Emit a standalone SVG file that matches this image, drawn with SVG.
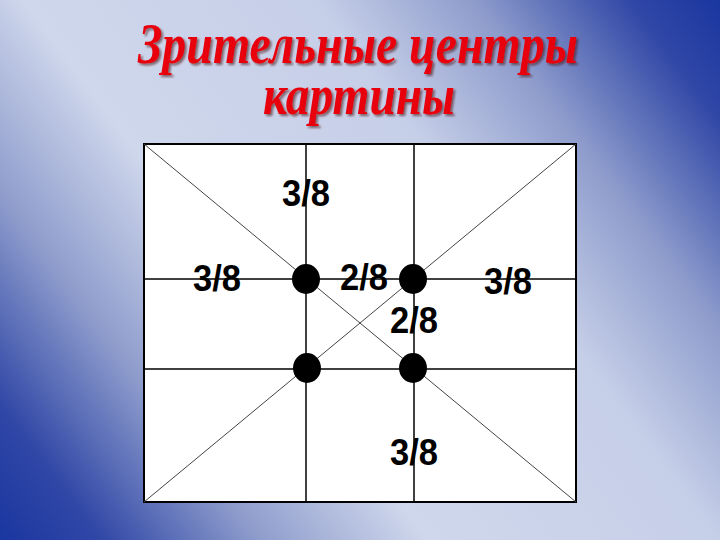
<svg xmlns="http://www.w3.org/2000/svg" width="720" height="540" viewBox="0 0 720 540">
<defs>
<linearGradient id="bg" gradientUnits="userSpaceOnUse" x1="720" y1="0" x2="0" y2="540">
<stop offset="0" stop-color="#1a36a0"/>
<stop offset="0.08" stop-color="#3047a6"/>
<stop offset="0.22" stop-color="#8e9ccc"/>
<stop offset="0.36" stop-color="#c6cfe8"/>
<stop offset="0.62" stop-color="#cfd7ec"/>
<stop offset="0.77" stop-color="#8e9ccc"/>
<stop offset="0.91" stop-color="#3047a6"/>
<stop offset="1" stop-color="#1a36a0"/>
</linearGradient>
<filter id="shadow" x="-5%" y="-20%" width="110%" height="140%">
<feDropShadow dx="2" dy="2" stdDeviation="0.8" flood-color="#4a0a18" flood-opacity="0.6"/>
</filter>
<style>
.title{font-family:"Liberation Serif","Times New Roman",serif;font-weight:bold;font-style:italic;font-size:58px;text-anchor:middle;fill:#e8000f;filter:url(#shadow)}
.grid{stroke:#000;stroke-width:1.5;fill:none}
.diag{stroke:#444;stroke-width:1;fill:none}
.lbl{font-family:"Liberation Sans",Arial,sans-serif;font-weight:bold;font-size:36px;fill:#000;text-anchor:middle}
.dot{fill:#000}
</style>
</defs>
<rect x="0" y="0" width="720" height="540" fill="url(#bg)"/>
<g id="title">
<text class="title" x="358" y="63" textLength="440" lengthAdjust="spacingAndGlyphs">Зрительные центры</text>
<text class="title" x="359" y="114" textLength="192" lengthAdjust="spacingAndGlyphs">картины</text>
</g>
<g id="frame">
<rect x="144" y="144" width="432" height="358" fill="#fff" stroke="#000" stroke-width="2"/>
</g>
<g id="connectors">
<line class="diag" x1="144" y1="144" x2="576" y2="502"/>
<line class="diag" x1="576" y1="144" x2="144" y2="502"/>
<line class="grid" x1="306" y1="144" x2="306" y2="502"/>
<line class="grid" x1="414" y1="144" x2="414" y2="502"/>
<line class="grid" x1="144" y1="279" x2="576" y2="279"/>
<line class="grid" x1="144" y1="369" x2="576" y2="369"/>
</g>
<g id="dot1"><ellipse class="dot" cx="306" cy="279" rx="14" ry="15"/></g>
<g id="dot2"><ellipse class="dot" cx="413" cy="279" rx="14" ry="15"/></g>
<g id="dot3"><ellipse class="dot" cx="307" cy="368" rx="14" ry="15"/></g>
<g id="dot4"><ellipse class="dot" cx="413" cy="368" rx="14" ry="15"/></g>
<g id="labels">
<text class="lbl" x="306" y="206" textLength="48" lengthAdjust="spacingAndGlyphs">3/8</text>
<text class="lbl" x="217" y="291" textLength="48" lengthAdjust="spacingAndGlyphs">3/8</text>
<text class="lbl" x="364" y="290" textLength="48" lengthAdjust="spacingAndGlyphs">2/8</text>
<text class="lbl" x="508" y="294" textLength="48" lengthAdjust="spacingAndGlyphs">3/8</text>
<text class="lbl" x="414" y="333" textLength="48" lengthAdjust="spacingAndGlyphs">2/8</text>
<text class="lbl" x="414" y="465" textLength="48" lengthAdjust="spacingAndGlyphs">3/8</text>
</g>
</svg>
